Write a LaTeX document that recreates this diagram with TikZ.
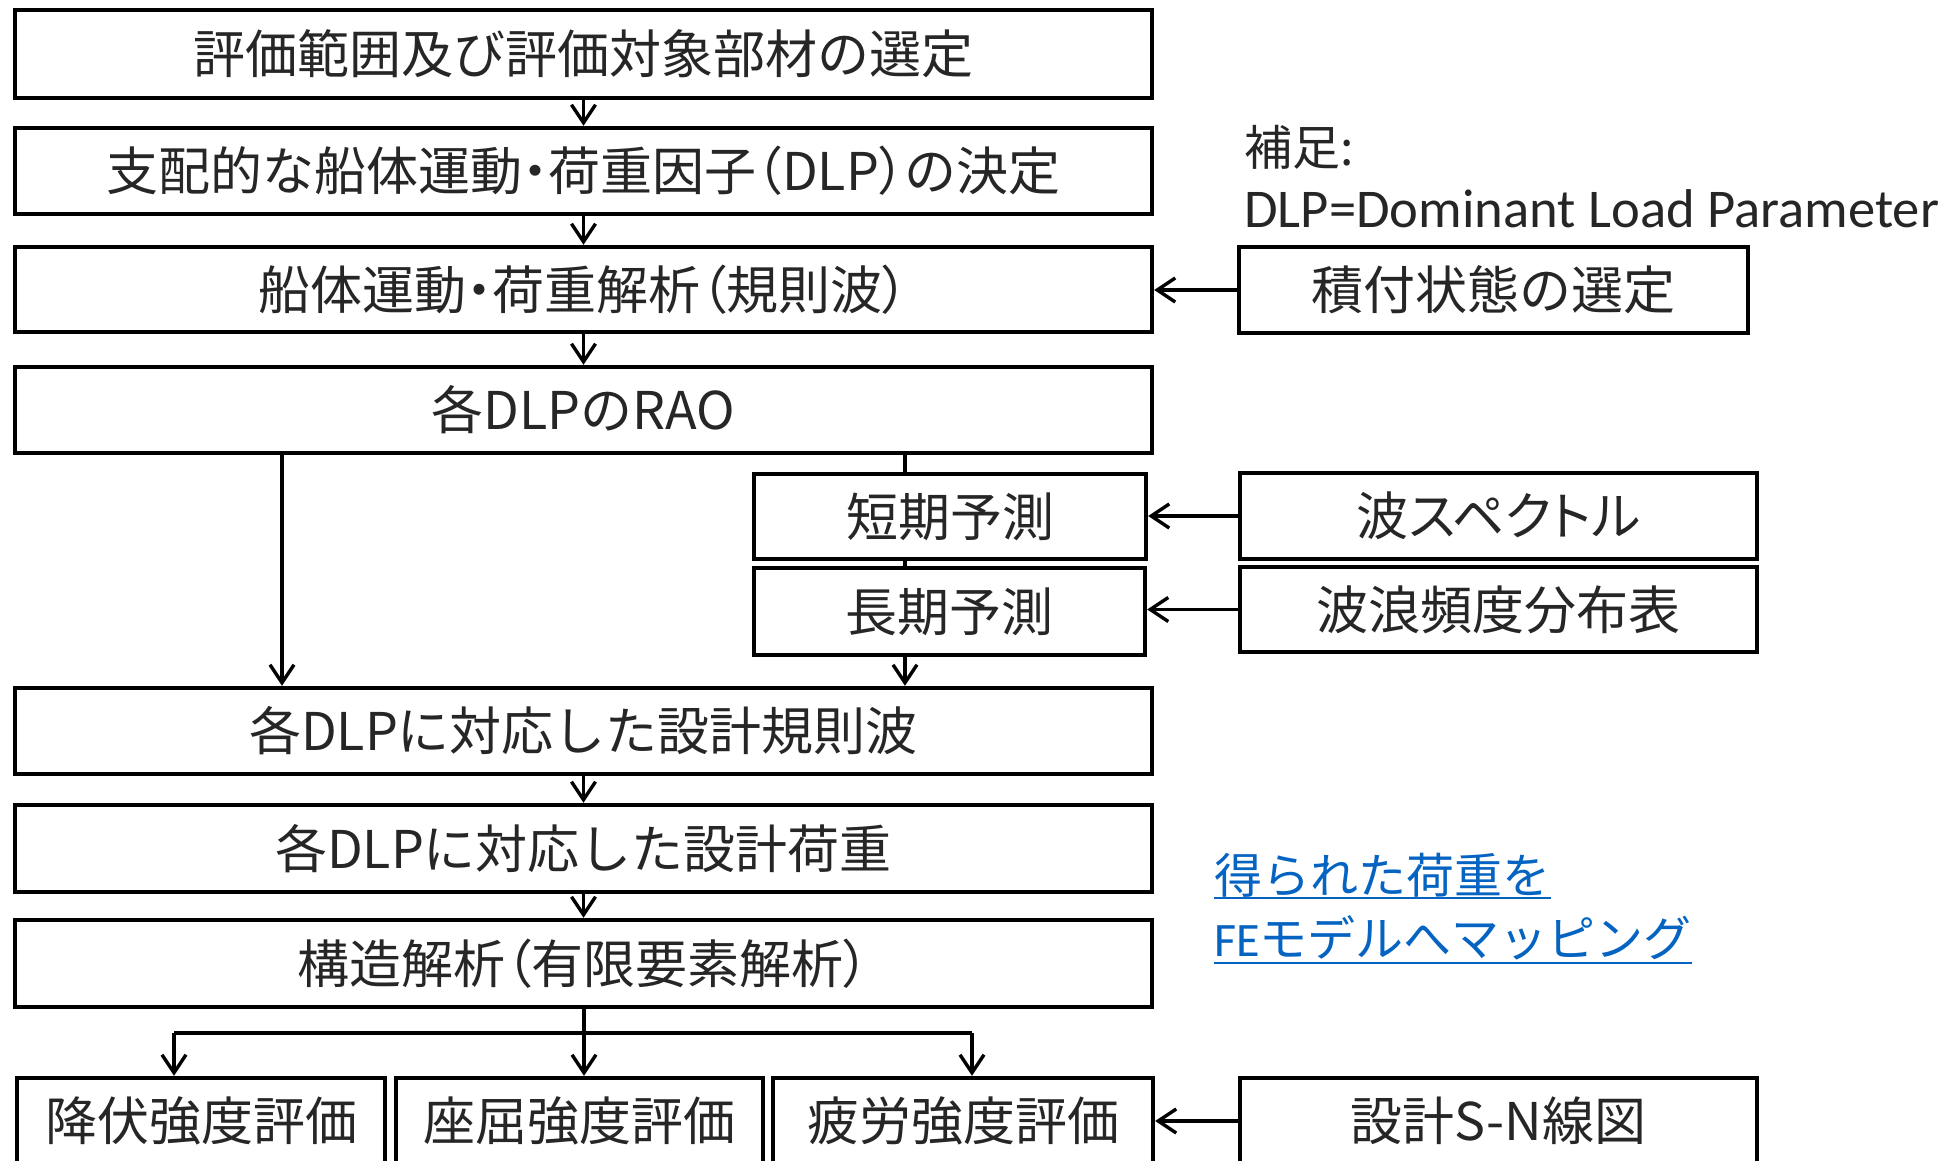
\documentclass[tikz,border=0pt]{standalone}
\usepackage{fontspec}
\setmainfont{Noto Sans CJK JP}
\newfontfamily\jpp[RawFeature=+palt]{Noto Sans CJK JP}
\newfontfamily\calfont{Carlito}
\usetikzlibrary{arrows.meta}
\definecolor{txt}{HTML}{262626}
\definecolor{linkc}{HTML}{0563C1}
\newcommand\hw[1]{{\jpp #1}}
\begin{document}
\begin{tikzpicture}[x=0.5pt,y=-0.5pt,
  box/.style={draw=black, line width=2.2pt, inner sep=0pt, text=txt,
    font=\fontsize{26}{30}\selectfont, minimum width=568.5pt, minimum height=43pt},
  sidebox/.style={box, minimum width=258.5pt},
  arr/.style={line width=1.7pt, -{Straight Barb[length=9pt,width=12pt,line width=1.7pt]}},
  ln/.style={line width=1.7pt},
  note/.style={inner sep=0pt, text=txt, anchor=base west},
  blue/.style={inner sep=0pt, text=linkc, anchor=base west, font=\fontsize{24}{28}\selectfont}]
\clip (0,0) rectangle (1948,1161);
\fill[white] (0,0) rectangle (1948,1161);
% main column
\node[box, minimum height=44pt] (b1) at (583.5,54) {評価範囲及び評価対象部材の選定};
\node[box] (b2) at (583.5,171) {支配的な船体運動\hw{・}荷重因子\hw{（}DLP\hw{）}の決定};
\node[box, minimum height=42.5pt] (b3) at (583.5,289.5) {船体運動\hw{・}荷重解析\hw{（}規則波\hw{）}};
\node[box] (b4) at (583.5,410) {各DLPのRAO};
\node[box, minimum width=196pt, minimum height=42.5pt] (st) at (950,516.5) {短期予測};
\node[box, minimum width=195.5pt, minimum height=43.5pt] (lt) at (949.5,611.5) {長期予測};
\node[box] (b5) at (583.5,731) {各DLPに対応した設計規則波};
\node[box, minimum height=43.5pt] (b6) at (583.5,848.5) {各DLPに対応した設計荷重};
\node[box, minimum height=43.5pt] (b7) at (583.5,963.5) {構造解析\hw{（}有限要素解析\hw{）}};
\node[box, minimum width=184pt] (ba) at (201,1121) {降伏強度評価};
\node[box, minimum width=183.5pt] (bb) at (579.5,1121) {座屈強度評価};
\node[box, minimum width=190pt] (bc) at (963,1121) {疲労強度評価};
% side column
\node[sidebox, minimum width=254.5pt] (r1) at (1493.5,290) {積付状態の選定};
\node[sidebox] (r2) at (1498.5,516) {波\hw{スペクトル}};
\node[sidebox, minimum height=42.5pt] (r3) at (1498.5,609.5) {波浪頻度分布表};
\node[sidebox] (r4) at (1498.5,1121) {設計S-N線図};
% notes
\node[note, font=\fontsize{24}{28}\selectfont] (n1) at (1244,165) {補足\hw{:}};
\node[note, font=\calfont\fontsize{27.3}{32}\selectfont] (n2) at (1244,227) {DLP=Dominant Load Parameter};
\node[blue] (m1) at (1214,893) {得られた荷重を};
\node[blue] (m2) at (1214,956) {{\calfont FE}モデルへマッピング};
\draw[linkc, line width=1.1pt] ([yshift=-2.5pt]m1.base west) -- ([yshift=-2.5pt]m1.base east);
\draw[linkc, line width=1.1pt] ([yshift=-3.5pt]m2.base west) -- ([yshift=-3.5pt]m2.base east);
% coordinates
\coordinate (xl) at (282,0);
\coordinate (xr) at (905,0);
\coordinate (jn) at (584,1033);
\coordinate (ja) at (174,1033);
\coordinate (jc) at (972,1033);
% connectors
\draw[arr] (b1) -- (b2);
\draw[arr] (b2) -- (b3);
\draw[arr] (b3) -- (b4);
\draw[arr] (b4.south -| xl) -- (b5.north -| xl);
\draw[ln] (b4.south -| xr) -- (st.north -| xr);
\draw[ln] (st.south -| xr) -- (lt.north -| xr);
\draw[arr] (lt.south -| xr) -- (b5.north -| xr);
\draw[arr] (b5) -- (b6);
\draw[arr] (b6) -- (b7);
\draw[ln] (b7.south -| jn) -- (jn);
\draw[line width=2pt] (ja) -- (jc);
\draw[arr] (ja) -- (ba.north -| ja);
\draw[arr] (jn) -- (bb.north -| jn);
\draw[arr] (jc) -- (bc.north -| jc);
\draw[arr] (r1.west) -- (r1.west -| b3.east);
\draw[arr] (r2.west) -- (r2.west -| st.east);
\draw[arr] (r3.west) -- (r3.west -| lt.east);
\draw[arr] (r4.west) -- (r4.west -| bc.east);
\end{tikzpicture}
\end{document}
